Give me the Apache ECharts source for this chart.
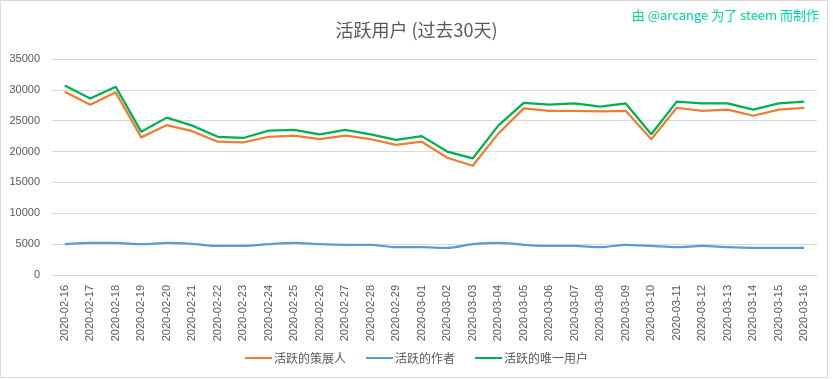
<!DOCTYPE html>
<html><head><meta charset="utf-8">
<script src="https://cdn.jsdelivr.net/npm/echarts@6/dist/echarts.min.js"></script>
<style>html,body{margin:0;padding:0;background:#fff}#c{width:833px;height:379px}</style>
</head><body><div id="c"></div>
<script>
const categories = ["2020-02-16","2020-02-17","2020-02-18","2020-02-19","2020-02-20","2020-02-21","2020-02-22","2020-02-23","2020-02-24","2020-02-25","2020-02-26","2020-02-27","2020-02-28","2020-02-29","2020-03-01","2020-03-02","2020-03-03","2020-03-04","2020-03-05","2020-03-06","2020-03-07","2020-03-08","2020-03-09","2020-03-10","2020-03-11","2020-03-12","2020-03-13","2020-03-14","2020-03-15","2020-03-16"];
const curators = [29700,27600,29600,22300,24300,23300,21600,21500,22400,22600,22000,22600,22000,21100,21600,19000,17700,22900,27000,26600,26600,26500,26600,22000,27100,26600,26800,25800,26800,27100];
const authors = [5000,5200,5200,5000,5200,5050,4700,4700,5000,5200,5000,4900,4900,4500,4500,4400,5000,5200,4900,4700,4700,4500,4900,4700,4500,4700,4500,4400,4400,4400];
const uniqueUsers = [30700,28600,30500,23200,25500,24200,22400,22200,23400,23500,22800,23500,22800,21900,22500,20000,18900,24200,27900,27600,27800,27300,27800,22800,28100,27800,27800,26800,27800,28100];
const seriesNames = ["活跃的策展人","活跃的作者","活跃的唯一用户"];
const yTicks = [0,5000,10000,15000,20000,25000,30000,35000];

const cjk = '"Noto Sans CJK SC", "DejaVu Sans", sans-serif';
const chart = echarts.init(document.getElementById('c'));
chart.setOption({
  backgroundColor: '#fff',
  animation: false,
  title: {
    text: '活跃用户 (过去30天)',
    left: 'center', top: 16,
    textStyle: { fontFamily: cjk, fontSize: 18, fontWeight: 'normal', color: '#595959' }
  },
  graphic: [
    { type: 'rect', shape: { x: 0.5, y: 0.5, width: 827, height: 377 }, style: { fill: 'none', stroke: '#d9d9d9', lineWidth: 1 }, silent: true },
    { type: 'text', right: 14, top: 9, style: { text: '由 @arcange 为了 steem 而制作', fill: '#00d4a0', font: '13px ' + cjk } }
  ],
  legend: {
    bottom: 10, left: 'center',
    itemWidth: 27, itemHeight: 2, itemGap: 20,
    icon: 'rect',
    textStyle: { fontFamily: cjk, fontSize: 12, color: '#595959', padding: [0,0,0,-3] },
    data: seriesNames
  },
  grid: { left: 52, right: 16, top: 59, bottom: 104 },
  xAxis: {
    type: 'category', data: categories, boundaryGap: true,
    axisLine: { lineStyle: { color: '#d9d9d9' } },
    axisTick: { show: false },
    axisLabel: { rotate: 90, interval: 0, color: '#595959', fontSize: 11, fontFamily: '"Liberation Sans", sans-serif', margin: 10 }
  },
  yAxis: {
    type: 'value', min: 0, max: 35000, interval: 5000,
    axisLine: { show: false }, axisTick: { show: false },
    splitLine: { lineStyle: { color: '#d9d9d9' } },
    axisLabel: { color: '#595959', fontSize: 11, fontFamily: '"Liberation Sans", sans-serif', margin: 12,
      formatter: v => yTicks.includes(v) ? String(v) : '' }
  },
  series: [
    { name: seriesNames[0], type: 'line', data: curators, symbol: 'none', lineStyle: { width: 2.25, color: '#ED7D31' }, itemStyle: { color: '#ED7D31' } },
    { name: seriesNames[1], type: 'line', data: authors, symbol: 'none', smooth: 0.3, lineStyle: { width: 2.25, color: '#5B9BD5' }, itemStyle: { color: '#5B9BD5' } },
    { name: seriesNames[2], type: 'line', data: uniqueUsers, symbol: 'none', lineStyle: { width: 2.25, color: '#00B050' }, itemStyle: { color: '#00B050' } }
  ]
});
</script></body></html>
